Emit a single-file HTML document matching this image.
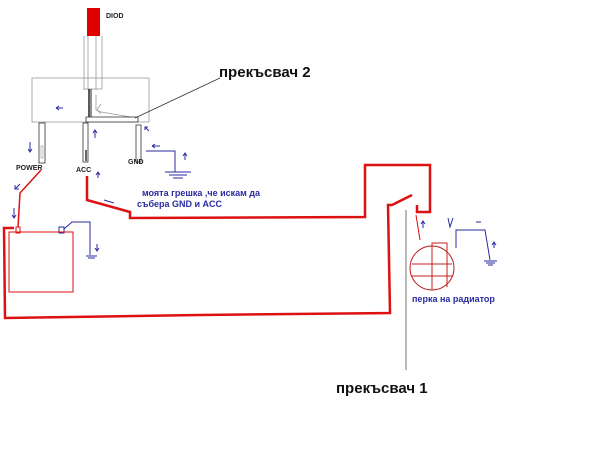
<!DOCTYPE html>
<html><head><style>body{margin:0;background:#fff}svg{display:block}</style></head><body>
<svg width="600" height="463" viewBox="0 0 600 463" xmlns="http://www.w3.org/2000/svg" font-family="Liberation Sans, sans-serif">
<rect width="600" height="463" fill="#fff"/>
<!-- diode -->
<rect x="87" y="8" width="13" height="28" fill="#e00000"/>
<text x="106" y="18" font-size="7" font-weight="bold" fill="#222">DIOD</text>
<g stroke="#999" stroke-width="0.8" fill="none">
<line x1="84" y1="36" x2="84" y2="90"/><line x1="88" y1="36" x2="88" y2="90"/>
<line x1="96" y1="36" x2="96" y2="90"/><line x1="102" y1="36" x2="102" y2="89"/>
<line x1="84" y1="89" x2="102" y2="89"/>
<rect x="32" y="78" width="117" height="44"/>
<polyline points="96,95 96,110 101,112 131,117"/>
<polyline points="101,104 97,110 101,114"/>
</g>
<line x1="89" y1="89" x2="89" y2="117" stroke="#222" stroke-width="1.5"/>
<line x1="91" y1="89" x2="91" y2="117" stroke="#222" stroke-width="1"/>
<!-- bar and pins -->
<rect x="86" y="117" width="52" height="5" fill="#fff" stroke="#333" stroke-width="0.8"/>
<rect x="39" y="123" width="6" height="40" fill="#fff" stroke="#333" stroke-width="0.8"/>
<rect x="41" y="146" width="2" height="12" fill="none" stroke="#999" stroke-width="0.6"/>
<rect x="83" y="123" width="5" height="39" fill="#fff" stroke="#333" stroke-width="0.8"/>
<line x1="86" y1="150" x2="86" y2="161" stroke="#333" stroke-width="1.5"/>
<rect x="136" y="125" width="5" height="37" fill="#fff" stroke="#333" stroke-width="0.8"/>
<line x1="135" y1="118" x2="220" y2="78" stroke="#333" stroke-width="0.8"/>
<text x="219" y="77" font-size="15" font-weight="bold" fill="#111">прекъсвач 2</text>
<g font-size="7" font-weight="bold" fill="#222">
<text x="16" y="170">POWER</text><text x="76" y="172">ACC</text><text x="128" y="164">GND</text>
</g>
<!-- blue stuff -->
<g stroke="#2a2aa0" stroke-width="1" fill="none">
<polyline points="146,151 175,151 175,172"/>
<line x1="165" y1="172" x2="191" y2="172"/><line x1="169" y1="175" x2="187" y2="175"/><line x1="173" y1="178" x2="183" y2="178"/>
<rect x="59" y="227" width="5" height="6"/>
<polyline points="64,229 72,222 90,222 90,255"/>
<line x1="86" y1="256" x2="97" y2="256"/><line x1="88" y1="258" x2="95" y2="258"/>
<polyline points="456,248 456,230 485,230 490,260"/>
<line x1="484" y1="261" x2="497" y2="261"/><line x1="486" y1="263" x2="495" y2="263"/><line x1="488" y1="265" x2="493" y2="265"/>
<path d="M30,142 V152 M28,149 L30,152 L32,149"/>
<path d="M56,108 H63 M56,108 L59,106 M56,108 L59,110"/>
<path d="M95,138 V130 M93,133 L95,130 L97,133"/>
<path d="M145,130 V127 L148,127 M145,127 L149,131"/>
<path d="M152,146 H160 M152,146 L155,144 M152,146 L155,148"/>
<path d="M185,160 V153 M183,156 L185,153 L187,156"/>
<path d="M98,178 V172 M96,175 L98,172 L100,175"/>
<path d="M20,184 L15,189 M15,185 V189 H19"/>
<path d="M14,208 V218 M12,215 L14,218 L16,215"/>
<path d="M97,244 V251 M95,248 L97,251 L99,248"/>
<path d="M104,200 L114,203"/>
<path d="M423,228 V221 M421,224 L423,221 L425,224"/>
<path d="M448,218 L450,227 L453,218"/>
<path d="M476,222 H481"/>
<path d="M494,248 V242 M492,245 L494,242 L496,245"/>
</g>
<text x="142" y="196" font-size="9" font-weight="bold" fill="#2a2aa0">моята грешка ,че искам да</text>
<text x="137" y="207" font-size="9" font-weight="bold" fill="#2a2aa0">събера GND и ACC</text>
<!-- red wiring -->
<g stroke="#dd1111" fill="none" stroke-linejoin="miter">
<polyline stroke-width="1.5" points="41,170 20,193 18,227"/>
<rect x="16" y="227" width="4" height="6" stroke-width="1"/>
<rect x="9" y="232" width="64" height="60" stroke-width="1"/>
<polyline stroke-width="2.5" points="87,176 87,200 130,212 130,218 365,217 365,165 430,165 430,212 417,212 417,205"/>
<polyline stroke-width="2.5" points="412,195 392,205 388,205 390,313 200,315 5,318 4,228 14,228"/>
<line x1="416" y1="215" x2="420" y2="240" stroke-width="1"/>
</g>
<!-- fan -->
<g stroke="#c02020" stroke-width="1" fill="none">
<circle cx="432" cy="268" r="22"/>
<rect x="432" y="243" width="15" height="21"/>
<line x1="412" y1="264" x2="452" y2="264"/><line x1="411" y1="276" x2="453" y2="276"/>
<line x1="432" y1="264" x2="432" y2="290"/><line x1="447" y1="264" x2="447" y2="287"/>
</g>
<text x="412" y="302" font-size="9" font-weight="bold" fill="#2a2aa0">перка на радиатор</text>
<line x1="406" y1="210" x2="406" y2="370" stroke="#888" stroke-width="1.2"/>
<text x="336" y="393" font-size="15" font-weight="bold" fill="#111">прекъсвач 1</text>
</svg>
</body></html>
